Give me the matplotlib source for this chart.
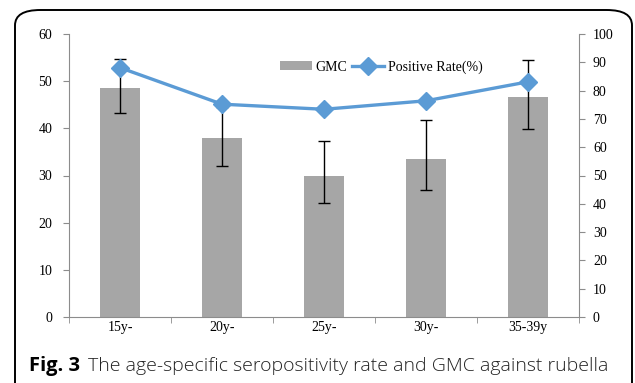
import numpy as np
import matplotlib
matplotlib.use('Agg')
import matplotlib.pyplot as plt
from matplotlib.patches import FancyBboxPatch, Patch
from matplotlib.lines import Line2D

# Data
age_groups = ['15y-', '20y-', '25y-', '30y-', '35-39y']
gmc = [48.6, 37.9, 30.0, 33.4, 46.6]
gmc_low = [43.3, 32.0, 24.1, 26.9, 39.9]
gmc_high = [54.8, 44.5, 37.4, 41.8, 54.4]
pos_rate = [88.1, 75.2, 73.4, 76.4, 83.1]

bar_color = '#A6A6A6'
line_color = '#5B9BD5'
axis_color = '#8C8C8C'
tick_font = 'Liberation Serif'
tick_size = 10

fig = plt.figure(figsize=(6.35, 3.83), dpi=100)

# outer rounded frame (runs off the bottom of the picture)
frame = FancyBboxPatch((15 / 635, -0.2), 617 / 635, 1 - 10 / 383 + 0.2,
                       boxstyle='round,pad=0,rounding_size=0.04',
                       transform=fig.transFigure, fill=False,
                       edgecolor='black', linewidth=1.4, clip_on=False)
fig.patches.append(frame)

ax = fig.add_axes([69 / 635, 1 - 317 / 383, 510 / 635, 283 / 383])
x = np.arange(len(age_groups))
ax.bar(x, gmc, width=0.4, color=bar_color, zorder=2)
yerr = [np.array(gmc) - np.array(gmc_low), np.array(gmc_high) - np.array(gmc)]
ax.errorbar(x, gmc, yerr=yerr, fmt='none', ecolor='black', elinewidth=1,
            capsize=4, capthick=1, zorder=3)
ax.set_xlim(-0.5, len(age_groups) - 0.5)
ax.set_ylim(0, 60)
ax.set_yticks(np.arange(0, 61, 10))
ax.set_xticks(x)
ax.set_xticklabels(age_groups, fontfamily=tick_font, fontsize=tick_size)
ax.set_xticks(np.arange(-0.5, len(age_groups), 1), minor=True)
ax.tick_params(axis='x', which='major', length=0, pad=3)
ax.tick_params(axis='x', which='minor', length=4, color=axis_color)
ax.tick_params(axis='y', length=4, color=axis_color, pad=8)
for lab in ax.get_yticklabels():
    lab.set_fontfamily(tick_font)
    lab.set_fontsize(tick_size)
ax.spines['top'].set_visible(False)
ax.spines['right'].set_visible(False)
for s in ['left', 'bottom']:
    ax.spines[s].set_color(axis_color)
    ax.spines[s].set_linewidth(0.8)

ax2 = ax.twinx()
ax2.plot(x, pos_rate, color=line_color, linewidth=2.4, marker='D',
         markersize=9.5, zorder=4)
ax2.set_ylim(0, 100)
ax2.set_yticks(np.arange(0, 101, 10))
ax2.tick_params(axis='y', length=4, color=axis_color, pad=6)
for lab in ax2.get_yticklabels():
    lab.set_fontfamily(tick_font)
    lab.set_fontsize(tick_size)
for s in ['top', 'left', 'bottom']:
    ax2.spines[s].set_visible(False)
ax2.spines['right'].set_color(axis_color)
ax2.spines['right'].set_linewidth(0.8)

handles = [Patch(facecolor=bar_color, edgecolor='none'),
           Line2D([0], [0], color=line_color, linewidth=2.4, marker='D', markersize=9)]
ax2.legend(handles, ['GMC', 'Positive Rate(%)'], ncol=2, frameon=False,
           loc='center', bbox_to_anchor=(381 / 635, 1 - 67 / 383),
           bbox_transform=fig.transFigure, prop={'family': tick_font, 'size': tick_size},
           handlelength=2.3, handleheight=0.6, handletextpad=0.3, columnspacing=0.3)

fig.text(29 / 635, 1 - 366 / 383, 'Fig. 3', fontfamily='Open Sans', fontweight='bold',
         fontsize=14.5, va='center', ha='left')
fig.text(88 / 635, 1 - 366 / 383, 'The age-specific seropositivity rate and GMC against rubella',
         fontfamily='Open Sans', fontweight='light', fontsize=14, va='center', ha='left',
         color='#222222')

fig.savefig('out.png', dpi=100)
